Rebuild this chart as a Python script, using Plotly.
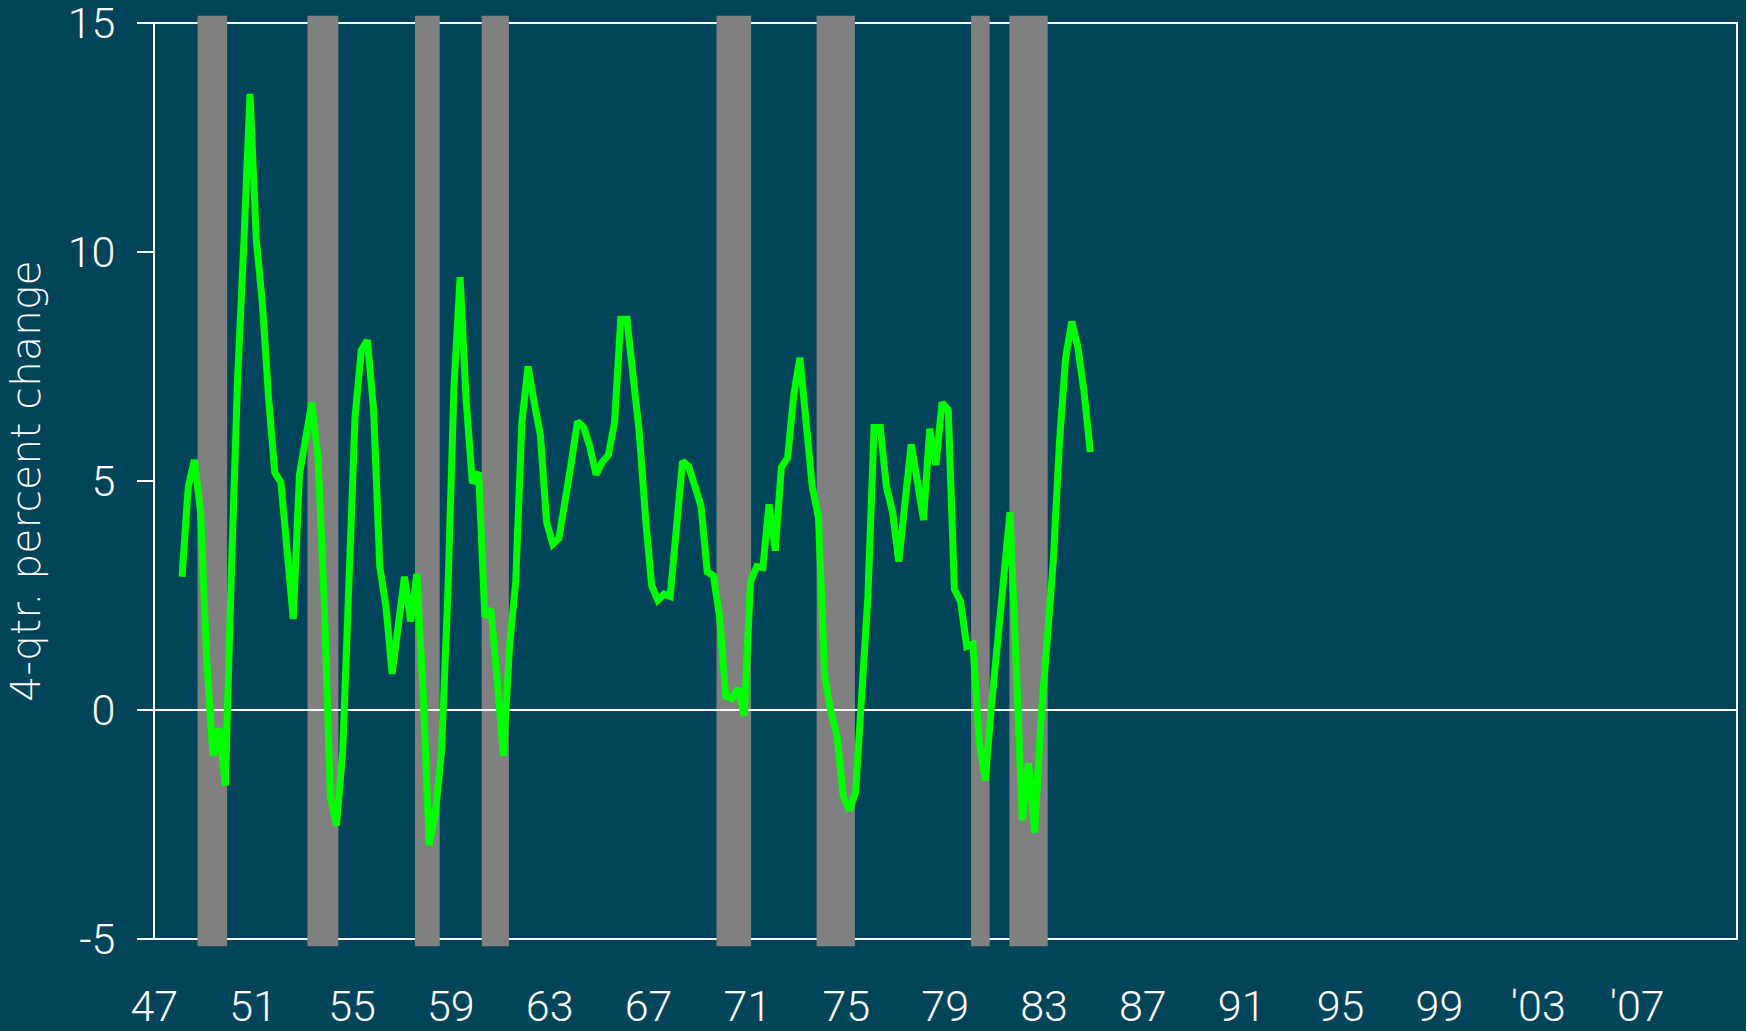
import pandas as pd
import plotly.graph_objects as go

# real output, 4-quarter percent change, 1948Q1 .. 1984Q4
growth = [
    2.91, 4.87, 5.46, 4.32, 1.06, -1.0, -0.4, -1.65,
    3.1, 7.26, 10.2, 13.45, 10.3, 8.88, 6.82, 5.19,
    4.97, 3.24, 1.99, 5.14, 6.0, 6.71, 5.52, 2.4,
    -1.9, -2.52, -0.9, 2.9, 6.4, 7.85, 8.07, 6.55,
    3.13, 2.26, 0.79, 1.85, 2.91, 1.93, 2.97, 0.41,
    -2.95, -2.25, -0.89, 2.48, 7.04, 9.45, 6.71, 4.95,
    5.19, 2.04, 2.2, 0.65, -1.0, 1.39, 2.8, 6.28,
    7.5, 6.71, 6.0, 4.1, 3.62, 3.75, 4.5, 5.4,
    6.3, 6.17, 5.75, 5.14, 5.41, 5.57, 6.28, 8.53,
    8.53, 7.1, 6.06, 4.21, 2.72, 2.4, 2.53, 2.48,
    3.9, 5.43, 5.32, 4.94, 4.45, 3.02, 2.93, 2.04,
    0.3, 0.25, 0.47, -0.13, 2.8, 3.13, 3.11, 4.49,
    3.48, 5.3, 5.5, 6.88, 7.69, 6.28, 4.87, 4.21,
    0.74, -0.02, -0.56, -1.87, -2.19, -1.81, 0.2, 2.48,
    6.17, 6.17, 4.87, 4.32, 3.24, 4.4, 5.8, 5.0,
    4.15, 6.14, 5.35, 6.71, 6.55, 2.64, 2.37, 1.39,
    1.44, -0.67, -1.54, 0.1, 1.72, 2.9, 4.32, 1.0,
    -2.41, -1.16, -2.68, -0.24, 1.61, 3.24, 5.84, 7.69,
    8.48, 7.91, 6.93, 5.63,
]

# recession periods (decimal years)
rec_start = [1948.75, 1953.2, 1957.55, 1960.25, 1969.75, 1973.8, 1980.05, 1981.6]
rec_end = [1949.95, 1954.45, 1958.55, 1961.35, 1971.15, 1975.35, 1980.8, 1983.15]

tick_years = [1947, 1951, 1955, 1959, 1963, 1967, 1971, 1975, 1979, 1983,
              1987, 1991, 1995, 1999, 2003, 2007]
tick_labels = ["47", "51", "55", "59", "63", "67", "71", "75", "79", "83",
               "87", "91", "95", "99", "'03", "'07"]
y_ticks = [-5, 0, 5, 10, 15]
y_labels = ["-5", "0", "5", "10", "15"]

quarters = pd.period_range("1948Q1", periods=len(growth), freq="Q")
x = [q.year + (q.quarter - 0.5) / 4 for q in quarters]

BG = "#02455a"
fig = go.Figure()

shapes = [dict(type="rect", xref="paper", yref="paper", x0=0, x1=1, y0=0, y1=1,
               line=dict(color="white", width=2), layer="below")]
for s, e in zip(rec_start, rec_end):
    shapes.append(dict(type="rect", xref="x", yref="paper", x0=s, x1=e, y0=-0.008, y1=1.008,
                       fillcolor="#808080", line_width=0, layer="below"))
shapes.append(dict(type="line", xref="paper", yref="y", x0=0, x1=1, y0=0, y1=0,
                   line=dict(color="white", width=2), layer="below"))

fig.add_trace(go.Scatter(x=x, y=growth, mode="lines",
                         line=dict(color="#00ff00", width=7), hoverinfo="skip"))

fig.update_layout(
    width=1746, height=1031,
    paper_bgcolor=BG, plot_bgcolor=BG,
    margin=dict(l=154, r=9, t=23, b=92),
    showlegend=False,
    shapes=shapes,
    font=dict(family="Roboto", color="white", size=43, weight=300),
)
fig.update_xaxes(range=[1946.99, 2011.04], tickvals=tick_years, ticktext=tick_labels,
                 showgrid=False, zeroline=False, showline=False, ticks="",
                 ticklabelstandoff=38, tickfont=dict(size=43), automargin=False)
fig.update_yaxes(range=[-5, 15], tickvals=y_ticks, ticktext=y_labels, showgrid=False,
                 zeroline=False, showline=False, ticks="outside", ticklen=16,
                 tickcolor="white", tickwidth=2, ticklabelstandoff=13,
                 ticklabeloverflow="allow", tickfont=dict(size=43), automargin=False,
                 title=dict(text="4-qtr. percent change",
                            font=dict(family="DejaVu Sans", size=41, weight=300), standoff=14))

fig.write_html("out.html", post_script="document.body.style.margin='0';",
               config={"displayModeBar": False})
